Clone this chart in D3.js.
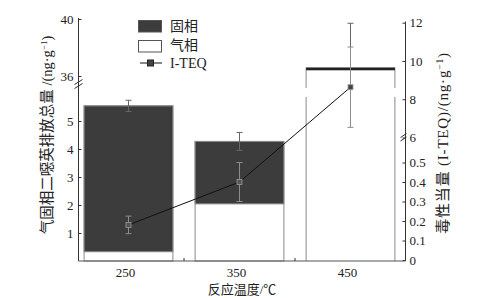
<!DOCTYPE html>
<html><head><meta charset="utf-8">
<script src="https://cdn.jsdelivr.net/npm/d3@7"></script>
<style>body{margin:0;background:#fff}svg{display:block}</style>
</head><body>
<script>
const categories = ["250", "350", "450"];
const gasPhase = [0.33, 2.04, 36.4];      // 气相
const solidPhase = [5.21, 2.23, 0.2];     // 固相
const totalErr = [0.2, 0.32, 3.1];
const iteq = [0.18, 0.40, 8.63];
const iteqErr = [0.045, 0.1, 2.1];
const leftTicksLow = [1, 2, 3, 4, 5];
const leftTicksHigh = [36, 40];
const rightTicksLow = [0, 0.1, 0.2, 0.3, 0.4, 0.5];
const rightTicksHigh = [6, 8, 10, 12];
const legendLabels = ["固相", "气相", "I-TEQ"];

const W = 487, H = 298;
const serif = "'Liberation Serif','Times New Roman',serif";
const cjk = "'Liberation Serif','Noto Sans CJK SC',serif";
const svg = d3.select("body").append("svg").attr("width", W).attr("height", H);

const x = d3.scaleBand().domain(categories).range([73, 406]).paddingInner(0.2).paddingOuter(0.1);
const yLlow = d3.scaleLinear().domain([0, 5]).range([261, 121]);
const yLhigh = d3.scaleLinear().domain([36, 40]).range([76, 19]);
const leftBreakLow = 5.86, leftBreakHigh = 35.16;
const yL = v => v <= leftBreakLow ? yLlow(v) : (v >= leftBreakHigh ? yLhigh(v) : yLhigh(leftBreakHigh));
const yRlow = d3.scaleLinear().domain([0, 0.5]).range([260, 162.5]);
const yRhigh = d3.scaleLinear().domain([6, 12]).range([137.5, 22.7]);
const yR = v => v <= 0.6 ? yRlow(v) : yRhigh(v);

const axisX0 = 78.5, axisX1 = 405.5, axisY = 261;
const barFill = "#3c3c3c", barStroke = "#8a8a8a";

// bars
categories.forEach((c, i) => {
  const x0 = x(c), bw = x.bandwidth();
  const gas = gasPhase[i], tot = gasPhase[i] + solidPhase[i];
  const g = svg.append("g");
  if (tot <= leftBreakLow) {
    g.append("rect").attr("x", x0).attr("y", yL(tot)).attr("width", bw).attr("height", yL(0) - yL(tot))
      .attr("fill", "#fff").attr("stroke", barStroke);
    g.append("rect").attr("x", x0).attr("y", yL(tot)).attr("width", bw).attr("height", yL(gas) - yL(tot))
      .attr("fill", barFill).attr("stroke", barStroke);
  } else {
    g.append("rect").attr("x", x0).attr("y", yLlow(leftBreakLow)).attr("width", bw).attr("height", yLlow(0) - yLlow(leftBreakLow))
      .attr("fill", "#fff");
    g.append("line").attr("x1", x0).attr("x2", x0).attr("y1", yLlow(0)).attr("y2", yLlow(leftBreakLow)).attr("stroke", barStroke);
    g.append("line").attr("x1", x0 + bw).attr("x2", x0 + bw).attr("y1", yLlow(0)).attr("y2", yLlow(leftBreakLow)).attr("stroke", barStroke);
    g.append("line").attr("x1", x0).attr("x2", x0).attr("y1", yLhigh(leftBreakHigh)).attr("y2", yLhigh(tot)).attr("stroke", barStroke);
    g.append("line").attr("x1", x0 + bw).attr("x2", x0 + bw).attr("y1", yLhigh(leftBreakHigh)).attr("y2", yLhigh(tot)).attr("stroke", barStroke);
    g.append("rect").attr("x", x0).attr("y", yLhigh(tot)).attr("width", bw).attr("height", yLhigh(gas) - yLhigh(tot))
      .attr("fill", "#222");
  }
  const ex = x0 + bw / 2;
  const eTop = yL(tot + totalErr[i]);
  const eBot = tot > leftBreakLow ? yL(tot) : yL(tot - totalErr[i]);
  g.append("line").attr("x1", ex).attr("x2", ex).attr("y1", eTop).attr("y2", eBot).attr("stroke", "#666");
  g.append("line").attr("x1", ex - 3).attr("x2", ex + 3).attr("y1", eTop).attr("y2", eTop).attr("stroke", "#666");
  if (tot <= leftBreakLow) g.append("line").attr("x1", ex - 3).attr("x2", ex + 3).attr("y1", eBot).attr("y2", eBot).attr("stroke", "#666");
});

// I-TEQ line
const pts = categories.map((c, i) => [x(c) + x.bandwidth() / 2, yR(iteq[i])]);
svg.append("path").attr("d", d3.line()(pts)).attr("fill", "none").attr("stroke", "#111").attr("stroke-width", 1);
categories.forEach((c, i) => {
  const cx = x(c) + x.bandwidth() / 2;
  const t = yR(iteq[i] + iteqErr[i]), b = yR(iteq[i] - iteqErr[i]);
  svg.append("line").attr("x1", cx).attr("x2", cx).attr("y1", t).attr("y2", b).attr("stroke", "#8c8c8c");
  [t, b].forEach(yy => svg.append("line").attr("x1", cx - 3).attr("x2", cx + 3).attr("y1", yy).attr("y2", yy).attr("stroke", "#8c8c8c"));
  svg.append("rect").attr("x", cx - 2.5).attr("y", yR(iteq[i]) - 2.5).attr("width", 5).attr("height", 5)
    .attr("fill", i === 2 ? "#444" : "#555").attr("stroke", "#999").attr("stroke-width", 0.8);
});

// axes
function styleAxis(g) {
  g.select(".domain").remove();
  g.selectAll("line").attr("stroke", "#333");
  g.selectAll("text").attr("font-family", serif).attr("font-size", 13).attr("fill", "#222");
}
svg.append("g").attr("transform", `translate(${axisX0},0)`)
  .call(d3.axisLeft(yLlow).tickValues(leftTicksLow).tickSizeInner(-3).tickSizeOuter(0).tickPadding(5).tickFormat(d3.format("d")))
  .call(styleAxis);
svg.append("g").attr("transform", `translate(${axisX0},0)`)
  .call(d3.axisLeft(yLhigh).tickValues(leftTicksHigh).tickSizeInner(-3).tickSizeOuter(0).tickPadding(5).tickFormat(d3.format("d")))
  .call(styleAxis);
svg.append("g").attr("transform", `translate(${axisX1},0)`)
  .call(d3.axisRight(yRlow).tickValues(rightTicksLow).tickSizeInner(-3).tickSizeOuter(0).tickPadding(4).tickFormat(d => d === 0 ? "0" : d3.format(".1f")(d)))
  .call(styleAxis);
svg.append("g").attr("transform", `translate(${axisX1},0)`)
  .call(d3.axisRight(yRhigh).tickValues(rightTicksHigh).tickSizeInner(-3).tickSizeOuter(0).tickPadding(4).tickFormat(d3.format("d")))
  .call(styleAxis);
svg.append("line").attr("x1", axisX0).attr("x2", axisX0).attr("y1", 18).attr("y2", axisY).attr("stroke", "#333");
svg.append("line").attr("x1", axisX1).attr("x2", axisX1).attr("y1", 21.5).attr("y2", axisY).attr("stroke", "#333");
svg.append("line").attr("x1", axisX0).attr("x2", axisX1).attr("y1", axisY).attr("y2", axisY).attr("stroke", "#555").attr("stroke-width", 1.2);
[[axisX0, 82], [axisX0, 86]].forEach(([bx, by]) =>
  svg.append("line").attr("x1", bx - 4).attr("y1", by + 2.5).attr("x2", bx + 4).attr("y2", by - 2.5).attr("stroke", "#333"));
[[axisX1 - 2, 135.5], [axisX1 - 2, 139]].forEach(([bx, by]) =>
  svg.append("line").attr("x1", bx - 3).attr("y1", by + 2).attr("x2", bx + 3).attr("y2", by - 2).attr("stroke", "#333"));
categories.slice(1).forEach(c => {
  const tx = x(c) - x.step() * x.paddingInner() / 2;
  svg.append("line").attr("x1", tx).attr("x2", tx).attr("y1", axisY).attr("y2", axisY - 3).attr("stroke", "#333");
});
categories.forEach(c => {
  svg.append("text").attr("x", x(c) + x.bandwidth() / 2 - 3).attr("y", 277).attr("text-anchor", "middle")
    .attr("font-family", serif).attr("font-size", 13).attr("fill", "#222").text(c);
});
svg.append("text").attr("x", 242).attr("y", 294).attr("text-anchor", "middle")
  .attr("font-family", cjk).attr("font-size", 13).attr("fill", "#222").text("反应温度/℃");

// axis titles
const lt = svg.append("text").attr("transform", "translate(52,135) rotate(-90)").attr("text-anchor", "middle")
  .attr("font-family", cjk).attr("font-size", 14.5).attr("fill", "#222");
lt.append("tspan").text("气固相二噁英排放总量 /(ng·g");
lt.append("tspan").attr("dy", -5).attr("font-size", 9).text("−1");
lt.append("tspan").attr("dy", 5).text(")");
const rt = svg.append("text").attr("transform", "translate(448,143) rotate(-90)").attr("text-anchor", "middle")
  .attr("font-family", cjk).attr("font-size", 15).attr("letter-spacing", 0.8).attr("fill", "#222");
rt.append("tspan").text("毒性当量 (I-TEQ)/(ng·g");
rt.append("tspan").attr("dy", -5).attr("font-size", 9.5).text("−1");
rt.append("tspan").attr("dy", 5).text(")");

// legend
const lg = svg.append("g");
lg.append("rect").attr("x", 138.5).attr("y", 20.5).attr("width", 23).attr("height", 11.5).attr("fill", barFill).attr("stroke", "#555");
lg.append("rect").attr("x", 138.5).attr("y", 40.5).attr("width", 23).attr("height", 11.5).attr("fill", "#fff").attr("stroke", "#555");
lg.append("line").attr("x1", 140).attr("x2", 162).attr("y1", 63).attr("y2", 63).attr("stroke", "#111");
lg.append("rect").attr("x", 147.5).attr("y", 60).attr("width", 6).attr("height", 6).attr("fill", "#444").attr("stroke", "#222");
legendLabels.forEach((t, i) => {
  lg.append("text").attr("x", 170).attr("y", 31 + i * 18.5).attr("font-family", cjk).attr("font-size", 14).attr("fill", "#222").text(t);
});
</script>
</body></html>
